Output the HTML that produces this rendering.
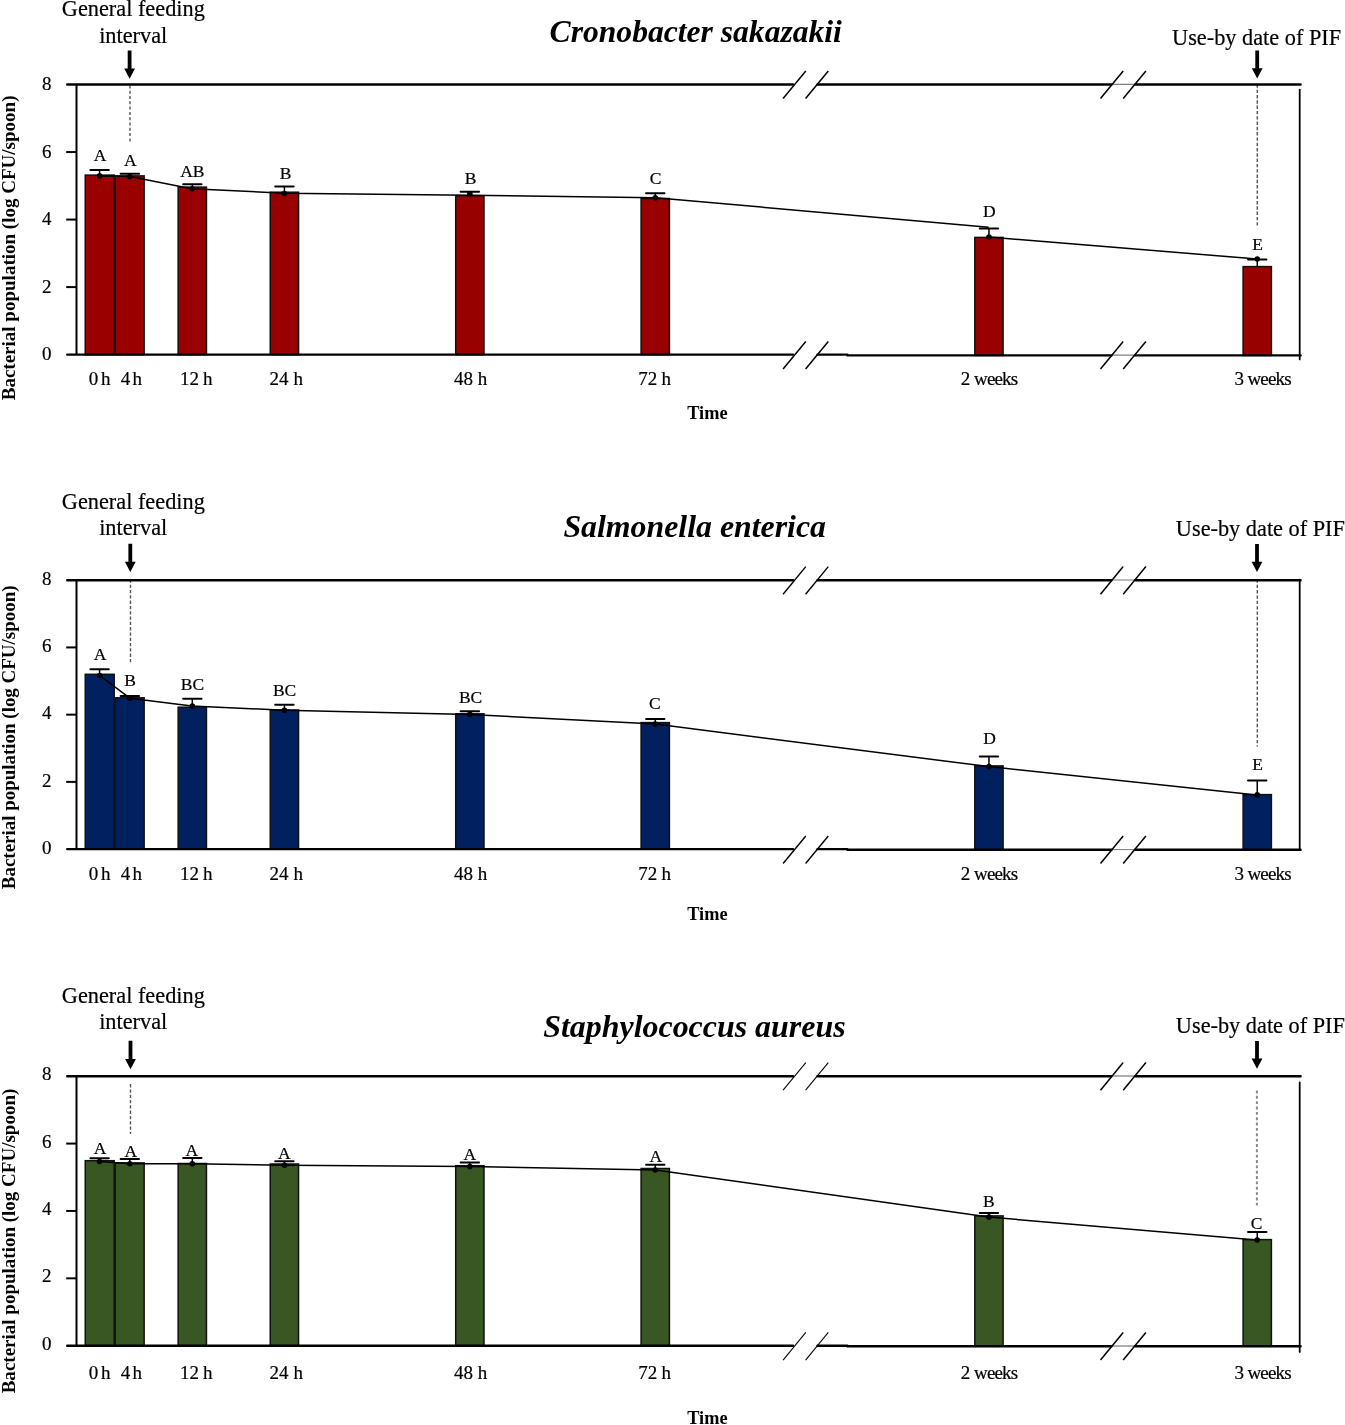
<!DOCTYPE html>
<html lang="en"><head><meta charset="utf-8"><title>Bacterial population over time</title>
<style>html,body{margin:0;padding:0;background:#fff}body{width:1345px;height:1425px;overflow:hidden}svg{display:block;will-change:transform}text{font-family:"Liberation Serif","Times New Roman",serif;fill:#000}.t{font-weight:bold;font-style:italic;font-size:31.5px}.n{font-size:22.3px;stroke:#000;stroke-width:.2px}.k{font-size:19px;stroke:#000;stroke-width:.2px}.l{font-size:17.5px;text-anchor:middle;stroke:#000;stroke-width:.2px}.b{font-weight:bold;font-size:19px}.tm{font-weight:bold;font-size:18.3px}.ax{stroke:#000;stroke-width:2.4;fill:none;stroke-linecap:round}.tk{stroke:#000;stroke-width:2;fill:none}.la{stroke:#000;stroke-width:2;fill:none}.th{stroke:#000;stroke-width:1.5;fill:none}.rv{stroke:#000;stroke-width:1.8;fill:none;stroke-linecap:round}</style></head><body>
<svg width="1345" height="1425" viewBox="0 0 1345 1425">
<rect width="1345" height="1425" fill="#fff"/>
<g id="p1">
<text class="t" x="549.6" y="41.7" textLength="292.3" lengthAdjust="spacingAndGlyphs">Cronobacter sakazakii</text>
<text class="n" x="133.3" y="16.4" text-anchor="middle">General feeding</text>
<text class="n" x="133.2" y="42.85" text-anchor="middle">interval</text>
<text class="n" x="1256.6" y="44.5" text-anchor="middle">Use-by date of PIF</text>
<path d="M127.7 50.6 H131.5 V68.4 H135 L129.6 78.7 L124.2 68.4 H127.7 Z" fill="#000"/>
<path d="M1255.3 50.5 H1259.1 V68.2 H1262.6 L1257.2 78.5 L1251.8 68.2 H1255.3 Z" fill="#000"/>
<line x1="130" y1="85.4" x2="130" y2="142" stroke="#8a8a8a" stroke-width="2" stroke-dasharray="3 2.3"/>
<line x1="1257.3" y1="84.4" x2="1257.3" y2="226" stroke="#5c5c5c" stroke-width="1.5" stroke-dasharray="3.4 1.9"/>
<text class="b" transform="translate(14.8 400.3) rotate(-90)" textLength="304.8" lengthAdjust="spacingAndGlyphs">Bacterial population (log CFU/spoon)</text>
<text class="tm" x="707.4" y="418.7" text-anchor="middle">Time</text>
<text class="k" x="46.7" y="90.05" text-anchor="middle">8</text>
<text class="k" x="46.7" y="157.56" text-anchor="middle">6</text>
<line class="tk" x1="66.2" y1="152.06" x2="76.5" y2="152.06"/>
<text class="k" x="46.7" y="225.07" text-anchor="middle">4</text>
<line class="tk" x1="66.2" y1="219.57" x2="76.5" y2="219.57"/>
<text class="k" x="46.7" y="292.59" text-anchor="middle">2</text>
<line class="tk" x1="66.2" y1="287.09" x2="76.5" y2="287.09"/>
<text class="k" x="46.7" y="360.1" text-anchor="middle">0</text>
<rect x="85.25" y="175.1" width="28.95" height="179.5" fill="#990000" stroke="#111" stroke-width="1.5"/>
<rect x="115.2" y="175.9" width="28.95" height="178.7" fill="#990000" stroke="#111" stroke-width="1.5"/>
<rect x="178.15" y="187.1" width="28.3" height="167.5" fill="#990000" stroke="#111" stroke-width="1.5"/>
<rect x="270.25" y="192.2" width="28.3" height="162.4" fill="#990000" stroke="#111" stroke-width="1.5"/>
<rect x="455.7" y="195.7" width="28.3" height="158.9" fill="#990000" stroke="#111" stroke-width="1.5"/>
<rect x="641.1" y="198.5" width="28.3" height="156.1" fill="#990000" stroke="#111" stroke-width="1.5"/>
<rect x="974.8" y="237.4" width="28.3" height="118" fill="#990000" stroke="#111" stroke-width="1.5"/>
<rect x="1243.1" y="266.6" width="28.3" height="88.8" fill="#990000" stroke="#111" stroke-width="1.5"/>
<path class="ax" d="M67.2 84.55 H793.0 M817.5 84.55 H1111.4 M1135.3 84.55 H1300.6"/>
<path class="ax" d="M67.2 354.6 H793.0 M817.5 354.6 H847.4 M847.4 355.4 H1111.4 M1135.3 355.4 H1300.6"/>
<path d="M1112.2 84.35 H1134.5 M1112.2 355.2 H1134.5" stroke="#808080" stroke-width="1.3" fill="none"/>
<line class="la" x1="76.5" y1="84.55" x2="76.5" y2="354.6"/>
<line class="rv" x1="1299.7" y1="89.55" x2="1299.7" y2="359.4"/>
<line x1="783.1" y1="98.55" x2="805.8" y2="70.95" stroke="#000" stroke-width="1.5"/>
<line x1="805.6" y1="98.55" x2="828.3" y2="70.95" stroke="#000" stroke-width="1.5"/>
<line x1="1100.5" y1="98.55" x2="1123.2" y2="70.95" stroke="#000" stroke-width="1.5"/>
<line x1="1123.2" y1="98.55" x2="1145.9" y2="70.95" stroke="#000" stroke-width="1.5"/>
<line x1="783.1" y1="369.1" x2="805.8" y2="341.5" stroke="#000" stroke-width="1.5"/>
<line x1="805.6" y1="369.1" x2="828.3" y2="341.5" stroke="#000" stroke-width="1.5"/>
<line x1="1100.5" y1="369.1" x2="1123.2" y2="341.5" stroke="#000" stroke-width="1.5"/>
<line x1="1123.2" y1="369.1" x2="1145.9" y2="341.5" stroke="#000" stroke-width="1.5"/>
<path d="M90.4 170.1 H108.8" stroke="#000" stroke-width="2" stroke-linecap="round" fill="none"/>
<line class="th" x1="99.6" y1="170.1" x2="99.6" y2="175.1"/>
<path d="M120.6 173.7 H139" stroke="#000" stroke-width="2" stroke-linecap="round" fill="none"/>
<line class="th" x1="129.8" y1="173.7" x2="129.8" y2="175.9"/>
<path d="M183.1 184.3 H201.5" stroke="#000" stroke-width="2" stroke-linecap="round" fill="none"/>
<line class="th" x1="192.3" y1="184.3" x2="192.3" y2="187.1"/>
<path d="M275.2 186.6 H293.6" stroke="#000" stroke-width="2" stroke-linecap="round" fill="none"/>
<line class="th" x1="284.4" y1="186.6" x2="284.4" y2="192.2"/>
<path d="M460.65 191.8 H479.05" stroke="#000" stroke-width="2" stroke-linecap="round" fill="none"/>
<line class="th" x1="469.85" y1="191.8" x2="469.85" y2="195.7"/>
<path d="M646.05 193.3 H664.45" stroke="#000" stroke-width="2" stroke-linecap="round" fill="none"/>
<line class="th" x1="655.25" y1="193.3" x2="655.25" y2="198.5"/>
<path d="M979.75 228.5 H998.15" stroke="#000" stroke-width="2" stroke-linecap="round" fill="none"/>
<line class="th" x1="988.95" y1="228.5" x2="988.95" y2="237.4"/>
<path d="M1248.05 259.4 H1266.45" stroke="#000" stroke-width="2" stroke-linecap="round" fill="none"/>
<line class="th" x1="1257.25" y1="259.4" x2="1257.25" y2="266.6"/>
<polyline class="th" points="99.55,175.9 129.9,176.6 191.6,188.7 284.3,193.2 470.1,195.3 655.4,197.7 988.6,227.2"/>
<polyline class="th" points="988.8,237.1 1257.2,259"/>
<circle cx="99.6" cy="175.9" r="2.8" fill="#000"/>
<text class="l" x="100.1" y="160.6">A</text>
<circle cx="129.8" cy="176.6" r="2.8" fill="#000"/>
<text class="l" x="130.2" y="165.9">A</text>
<circle cx="192.3" cy="188.7" r="2.8" fill="#000"/>
<text class="l" x="192.4" y="176.6">AB</text>
<circle cx="284.4" cy="193.5" r="2.8" fill="#000"/>
<text class="l" x="285.5" y="179.2">B</text>
<circle cx="469.85" cy="193.8" r="2.8" fill="#000"/>
<text class="l" x="470.7" y="184">B</text>
<circle cx="655.25" cy="197.7" r="2.8" fill="#000"/>
<text class="l" x="655.5" y="184.3">C</text>
<circle cx="988.95" cy="237.1" r="2.8" fill="#000"/>
<text class="l" x="989.4" y="217.3">D</text>
<circle cx="1257.25" cy="259" r="2.8" fill="#000"/>
<text class="l" x="1257.5" y="249.6">E</text>
<text class="k" y="385.2"><tspan x="88.8">0</tspan> <tspan x="100.9">h</tspan></text>
<text class="k" y="385.2"><tspan x="120.7">4</tspan> <tspan x="132.6">h</tspan></text>
<text class="k" y="385.2"><tspan x="179.9">12</tspan> <tspan x="202.9">h</tspan></text>
<text class="k" y="385.2"><tspan x="269.5">24</tspan> <tspan x="293.6">h</tspan></text>
<text class="k" y="385.2"><tspan x="453.9">48</tspan> <tspan x="477.8">h</tspan></text>
<text class="k" y="385.2"><tspan x="638.2">72</tspan> <tspan x="661.6">h</tspan></text>
<text class="k" y="385.2"><tspan x="960.8">2</tspan> <tspan x="974" textLength="44.2" lengthAdjust="spacing">weeks</tspan></text>
<text class="k" y="385.2"><tspan x="1234.4">3</tspan> <tspan x="1247.4" textLength="44.2" lengthAdjust="spacing">weeks</tspan></text>
</g>
<g id="p2">
<text class="t" x="563.4" y="536.7" textLength="262.6" lengthAdjust="spacingAndGlyphs">Salmonella enterica</text>
<text class="n" x="133.3" y="509.1" text-anchor="middle">General feeding</text>
<text class="n" x="133.2" y="535.35" text-anchor="middle">interval</text>
<text class="n" x="1260.4" y="536.4" text-anchor="middle">Use-by date of PIF</text>
<path d="M128.4 543.8 H132.2 V561.7 H135.7 L130.3 572 L124.9 561.7 H128.4 Z" fill="#000"/>
<path d="M1255.1 543.9 H1258.9 V561.8 H1262.4 L1257 572.1 L1251.6 561.8 H1255.1 Z" fill="#000"/>
<line x1="130.5" y1="579.4" x2="130.5" y2="662.3" stroke="#555" stroke-width="1.4" stroke-dasharray="3.3 2"/>
<line x1="1257.3" y1="579.4" x2="1257.3" y2="746.5" stroke="#555" stroke-width="1.4" stroke-dasharray="3.3 2.05"/>
<text class="b" transform="translate(14.8 889.2) rotate(-90)" textLength="303.7" lengthAdjust="spacingAndGlyphs">Bacterial population (log CFU/spoon)</text>
<text class="tm" x="707.4" y="920.4" text-anchor="middle">Time</text>
<text class="k" x="46.7" y="584.9" text-anchor="middle">8</text>
<text class="k" x="46.7" y="652.13" text-anchor="middle">6</text>
<line class="tk" x1="66.2" y1="647.43" x2="76.5" y2="647.43"/>
<text class="k" x="46.7" y="719.35" text-anchor="middle">4</text>
<line class="tk" x1="66.2" y1="714.65" x2="76.5" y2="714.65"/>
<text class="k" x="46.7" y="786.58" text-anchor="middle">2</text>
<line class="tk" x1="66.2" y1="781.88" x2="76.5" y2="781.88"/>
<text class="k" x="46.7" y="853.8" text-anchor="middle">0</text>
<rect x="85.25" y="674.3" width="28.95" height="174.8" fill="#002060" stroke="#111" stroke-width="1.5"/>
<rect x="115.2" y="697.8" width="28.95" height="151.3" fill="#002060" stroke="#111" stroke-width="1.5"/>
<rect x="178.15" y="707.2" width="28.3" height="141.9" fill="#002060" stroke="#111" stroke-width="1.5"/>
<rect x="270.25" y="710" width="28.3" height="139.1" fill="#002060" stroke="#111" stroke-width="1.5"/>
<rect x="455.7" y="713.8" width="28.3" height="135.3" fill="#002060" stroke="#111" stroke-width="1.5"/>
<rect x="641.1" y="722.6" width="28.3" height="126.5" fill="#002060" stroke="#111" stroke-width="1.5"/>
<rect x="974.8" y="765.9" width="28.3" height="83.9" fill="#002060" stroke="#111" stroke-width="1.5"/>
<rect x="1243.1" y="794.6" width="28.3" height="55.2" fill="#002060" stroke="#111" stroke-width="1.5"/>
<path class="ax" d="M67.2 580.2 H793.0 M817.5 580.2 H1111.4 M1135.3 580.2 H1300.6"/>
<path class="ax" d="M67.2 849.1 H793.0 M817.5 849.1 H847.4 M847.4 849.8 H1111.4 M1135.3 849.8 H1300.6"/>
<path d="M1112.2 580 H1134.5 M1112.2 849.6 H1134.5" stroke="#555" stroke-width="0.8" fill="none"/>
<line class="la" x1="76.5" y1="580.2" x2="76.5" y2="849.1"/>
<line class="rv" x1="1299.7" y1="579.7" x2="1299.7" y2="849.8"/>
<line x1="783.1" y1="594.2" x2="805.8" y2="566.6" stroke="#000" stroke-width="1.4"/>
<line x1="805.6" y1="594.2" x2="828.3" y2="566.6" stroke="#000" stroke-width="1.4"/>
<line x1="1100.5" y1="594.2" x2="1123.2" y2="566.6" stroke="#000" stroke-width="1.5"/>
<line x1="1123.2" y1="594.2" x2="1145.9" y2="566.6" stroke="#000" stroke-width="1.5"/>
<line x1="783.1" y1="863.55" x2="805.8" y2="835.95" stroke="#000" stroke-width="1.4"/>
<line x1="805.6" y1="863.55" x2="828.3" y2="835.95" stroke="#000" stroke-width="1.4"/>
<line x1="1100.5" y1="863.55" x2="1123.2" y2="835.95" stroke="#000" stroke-width="1.5"/>
<line x1="1123.2" y1="863.55" x2="1145.9" y2="835.95" stroke="#000" stroke-width="1.5"/>
<path d="M90.4 669.2 H108.8" stroke="#000" stroke-width="2" stroke-linecap="round" fill="none"/>
<line class="th" x1="99.6" y1="669.2" x2="99.6" y2="674.3"/>
<path d="M120.6 696.1 H139" stroke="#000" stroke-width="2" stroke-linecap="round" fill="none"/>
<line class="th" x1="129.8" y1="696.1" x2="129.8" y2="697.8"/>
<path d="M183.1 698.8 H201.5" stroke="#000" stroke-width="2" stroke-linecap="round" fill="none"/>
<line class="th" x1="192.3" y1="698.8" x2="192.3" y2="707.2"/>
<path d="M275.2 704.8 H293.6" stroke="#000" stroke-width="2" stroke-linecap="round" fill="none"/>
<line class="th" x1="284.4" y1="704.8" x2="284.4" y2="710"/>
<path d="M460.65 711.3 H479.05" stroke="#000" stroke-width="2" stroke-linecap="round" fill="none"/>
<line class="th" x1="469.85" y1="711.3" x2="469.85" y2="713.8"/>
<path d="M646.05 719.1 H664.45" stroke="#000" stroke-width="2" stroke-linecap="round" fill="none"/>
<line class="th" x1="655.25" y1="719.1" x2="655.25" y2="722.6"/>
<path d="M979.75 756.4 H998.15" stroke="#000" stroke-width="2" stroke-linecap="round" fill="none"/>
<line class="th" x1="988.95" y1="756.4" x2="988.95" y2="765.9"/>
<path d="M1248.05 780.4 H1266.45" stroke="#000" stroke-width="2" stroke-linecap="round" fill="none"/>
<line class="th" x1="1257.25" y1="780.4" x2="1257.25" y2="794.6"/>
<polyline class="th" points="99.6,675.5 129.9,698.2 191.8,706.1 284.3,710.2 470.1,714.4 655.4,724.1 988.6,766.6 1256.7,794.9"/>
<circle cx="99.6" cy="675.5" r="2.8" fill="#000"/>
<text class="l" x="100.1" y="660.4">A</text>
<circle cx="129.8" cy="698.2" r="2.8" fill="#000"/>
<text class="l" x="130.2" y="686.3">B</text>
<circle cx="192.3" cy="706.1" r="2.8" fill="#000"/>
<text class="l" x="192.4" y="689.6">BC</text>
<circle cx="284.4" cy="710.2" r="2.8" fill="#000"/>
<text class="l" x="284.6" y="695.9">BC</text>
<circle cx="469.85" cy="714.4" r="2.8" fill="#000"/>
<text class="l" x="470.6" y="702.6">BC</text>
<circle cx="655.25" cy="724.1" r="2.8" fill="#000"/>
<text class="l" x="654.8" y="709">C</text>
<circle cx="988.95" cy="766.6" r="2.8" fill="#000"/>
<text class="l" x="989.5" y="743.6">D</text>
<circle cx="1257.25" cy="794.9" r="2.8" fill="#000"/>
<text class="l" x="1257.5" y="770.1">E</text>
<text class="k" y="880.1"><tspan x="88.8">0</tspan> <tspan x="100.9">h</tspan></text>
<text class="k" y="880.1"><tspan x="120.7">4</tspan> <tspan x="132.6">h</tspan></text>
<text class="k" y="880.1"><tspan x="179.9">12</tspan> <tspan x="202.9">h</tspan></text>
<text class="k" y="880.1"><tspan x="269.5">24</tspan> <tspan x="293.6">h</tspan></text>
<text class="k" y="880.1"><tspan x="453.9">48</tspan> <tspan x="477.8">h</tspan></text>
<text class="k" y="880.1"><tspan x="638.2">72</tspan> <tspan x="661.6">h</tspan></text>
<text class="k" y="880.1"><tspan x="960.8">2</tspan> <tspan x="974" textLength="44.2" lengthAdjust="spacing">weeks</tspan></text>
<text class="k" y="880.1"><tspan x="1234.4">3</tspan> <tspan x="1247.4" textLength="44.2" lengthAdjust="spacing">weeks</tspan></text>
</g>
<g id="p3">
<text class="t" x="543.2" y="1037.2" textLength="302.4" lengthAdjust="spacingAndGlyphs">Staphylococcus aureus</text>
<text class="n" x="133.3" y="1002.5" text-anchor="middle">General feeding</text>
<text class="n" x="133.2" y="1028.65" text-anchor="middle">interval</text>
<text class="n" x="1260.4" y="1032.7" text-anchor="middle">Use-by date of PIF</text>
<path d="M128.6 1040.7 H132.4 V1058.9 H135.9 L130.5 1069.2 L125.1 1058.9 H128.6 Z" fill="#000"/>
<path d="M1255.1 1040.9 H1258.9 V1058.5 H1262.4 L1257 1068.8 L1251.6 1058.5 H1255.1 Z" fill="#000"/>
<line x1="130.5" y1="1084.1" x2="130.5" y2="1133.9" stroke="#555" stroke-width="1.4" stroke-dasharray="3.3 2"/>
<line x1="1256.9" y1="1090.5" x2="1256.9" y2="1205.6" stroke="#8a8a8a" stroke-width="2" stroke-dasharray="2.9 2.45"/>
<text class="b" transform="translate(14.8 1393.3) rotate(-90)" textLength="304.6" lengthAdjust="spacingAndGlyphs">Bacterial population (log CFU/spoon)</text>
<text class="tm" x="707.4" y="1424.2" text-anchor="middle">Time</text>
<text class="k" x="46.7" y="1080.3" text-anchor="middle">8</text>
<text class="k" x="46.7" y="1147.67" text-anchor="middle">6</text>
<line class="tk" x1="66.2" y1="1143.58" x2="76.5" y2="1143.58"/>
<text class="k" x="46.7" y="1215.05" text-anchor="middle">4</text>
<line class="tk" x1="66.2" y1="1210.95" x2="76.5" y2="1210.95"/>
<text class="k" x="46.7" y="1282.42" text-anchor="middle">2</text>
<line class="tk" x1="66.2" y1="1278.33" x2="76.5" y2="1278.33"/>
<text class="k" x="46.7" y="1349.8" text-anchor="middle">0</text>
<rect x="85.25" y="1160.7" width="28.95" height="185" fill="#385723" stroke="#111" stroke-width="1.5"/>
<rect x="115.2" y="1162.9" width="28.95" height="182.8" fill="#385723" stroke="#111" stroke-width="1.5"/>
<rect x="178.15" y="1163.5" width="28.3" height="182.2" fill="#385723" stroke="#111" stroke-width="1.5"/>
<rect x="270.25" y="1164" width="28.3" height="181.7" fill="#385723" stroke="#111" stroke-width="1.5"/>
<rect x="455.7" y="1165.7" width="28.3" height="180" fill="#385723" stroke="#111" stroke-width="1.5"/>
<rect x="641.1" y="1168.5" width="28.3" height="177.2" fill="#385723" stroke="#111" stroke-width="1.5"/>
<rect x="974.8" y="1215.9" width="28.3" height="130.3" fill="#385723" stroke="#111" stroke-width="1.5"/>
<rect x="1243.1" y="1239.6" width="28.3" height="106.6" fill="#385723" stroke="#111" stroke-width="1.5"/>
<path class="ax" d="M67.2 1076.2 H793.0 M817.5 1076.2 H1111.4 M1135.3 1076.2 H1300.6"/>
<path class="ax" d="M67.2 1345.7 H793.0 M817.5 1345.7 H847.4 M847.4 1346.2 H1111.4 M1135.3 1346.2 H1300.6"/>
<path d="M1112.2 1076 H1134.5 M1112.2 1346 H1134.5" stroke="#333" stroke-width="0.8" fill="none"/>
<line class="la" x1="76.5" y1="1076.2" x2="76.5" y2="1345.7"/>
<line class="rv" x1="1299.7" y1="1082.4" x2="1299.7" y2="1351.9"/>
<line x1="783.1" y1="1090.2" x2="805.8" y2="1062.6" stroke="#000" stroke-width="1.05"/>
<line x1="805.6" y1="1090.2" x2="828.3" y2="1062.6" stroke="#000" stroke-width="1.05"/>
<line x1="1100.5" y1="1090.2" x2="1123.2" y2="1062.6" stroke="#000" stroke-width="1.5"/>
<line x1="1123.2" y1="1090.2" x2="1145.9" y2="1062.6" stroke="#000" stroke-width="1.5"/>
<line x1="783.1" y1="1360.05" x2="805.8" y2="1332.45" stroke="#000" stroke-width="1.05"/>
<line x1="805.6" y1="1360.05" x2="828.3" y2="1332.45" stroke="#000" stroke-width="1.05"/>
<line x1="1100.5" y1="1360.05" x2="1123.2" y2="1332.45" stroke="#000" stroke-width="1.5"/>
<line x1="1123.2" y1="1360.05" x2="1145.9" y2="1332.45" stroke="#000" stroke-width="1.5"/>
<path d="M90.4 1158.3 H108.8" stroke="#000" stroke-width="2" stroke-linecap="round" fill="none"/>
<line class="th" x1="99.6" y1="1158.3" x2="99.6" y2="1160.7"/>
<path d="M120.6 1159 H139" stroke="#000" stroke-width="2" stroke-linecap="round" fill="none"/>
<line class="th" x1="129.8" y1="1159" x2="129.8" y2="1162.9"/>
<path d="M183.1 1158.1 H201.5" stroke="#000" stroke-width="2" stroke-linecap="round" fill="none"/>
<line class="th" x1="192.3" y1="1158.1" x2="192.3" y2="1163.5"/>
<path d="M275.2 1161.3 H293.6" stroke="#000" stroke-width="2" stroke-linecap="round" fill="none"/>
<line class="th" x1="284.4" y1="1161.3" x2="284.4" y2="1164"/>
<path d="M460.65 1162.4 H479.05" stroke="#000" stroke-width="2" stroke-linecap="round" fill="none"/>
<line class="th" x1="469.85" y1="1162.4" x2="469.85" y2="1165.7"/>
<path d="M646.05 1164.8 H664.45" stroke="#000" stroke-width="2" stroke-linecap="round" fill="none"/>
<line class="th" x1="655.25" y1="1164.8" x2="655.25" y2="1168.5"/>
<path d="M979.75 1212.9 H998.15" stroke="#000" stroke-width="2" stroke-linecap="round" fill="none"/>
<line class="th" x1="988.95" y1="1212.9" x2="988.95" y2="1215.9"/>
<path d="M1248.05 1232 H1266.45" stroke="#000" stroke-width="2" stroke-linecap="round" fill="none"/>
<line class="th" x1="1257.25" y1="1232" x2="1257.25" y2="1239.6"/>
<polyline class="th" points="99.6,1161.5 129.9,1163.7 191.6,1163.7 284.3,1165.2 469.6,1166.6 655.4,1170 988.6,1217.1 1256.6,1240"/>
<circle cx="99.6" cy="1161.5" r="2.8" fill="#000"/>
<text class="l" x="100.1" y="1154.3">A</text>
<circle cx="129.8" cy="1163.7" r="2.8" fill="#000"/>
<text class="l" x="130.8" y="1156.6">A</text>
<circle cx="192.3" cy="1163.7" r="2.8" fill="#000"/>
<text class="l" x="191.8" y="1155.9">A</text>
<circle cx="284.4" cy="1165.2" r="2.8" fill="#000"/>
<text class="l" x="284.3" y="1158.5">A</text>
<circle cx="469.85" cy="1166.6" r="2.8" fill="#000"/>
<text class="l" x="469.9" y="1159.8">A</text>
<circle cx="655.25" cy="1170" r="2.8" fill="#000"/>
<text class="l" x="655.9" y="1161.8">A</text>
<circle cx="988.95" cy="1217.1" r="2.8" fill="#000"/>
<text class="l" x="988.9" y="1207.1">B</text>
<circle cx="1257.25" cy="1240" r="2.8" fill="#000"/>
<text class="l" x="1256.7" y="1228.5">C</text>
<text class="k" y="1379.4"><tspan x="88.8">0</tspan> <tspan x="100.9">h</tspan></text>
<text class="k" y="1379.4"><tspan x="120.7">4</tspan> <tspan x="132.6">h</tspan></text>
<text class="k" y="1379.4"><tspan x="179.9">12</tspan> <tspan x="202.9">h</tspan></text>
<text class="k" y="1379.4"><tspan x="269.5">24</tspan> <tspan x="293.6">h</tspan></text>
<text class="k" y="1379.4"><tspan x="453.9">48</tspan> <tspan x="477.8">h</tspan></text>
<text class="k" y="1379.4"><tspan x="638.2">72</tspan> <tspan x="661.6">h</tspan></text>
<text class="k" y="1379.4"><tspan x="960.8">2</tspan> <tspan x="974" textLength="44.2" lengthAdjust="spacing">weeks</tspan></text>
<text class="k" y="1379.4"><tspan x="1234.4">3</tspan> <tspan x="1247.4" textLength="44.2" lengthAdjust="spacing">weeks</tspan></text>
</g>
</svg></body></html>
